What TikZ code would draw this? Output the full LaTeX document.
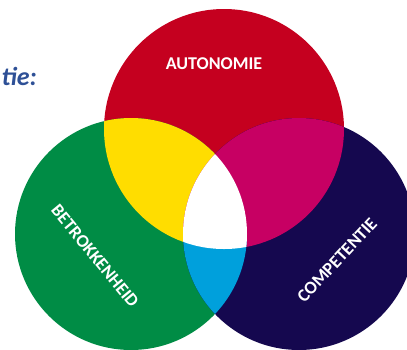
\documentclass[tikz,border=0pt]{standalone}
\usepackage{fontspec}
\setmainfont{Carlito}
\usepackage{tikz}
\usetikzlibrary{positioning}
\usepackage{xcolor}
\definecolor{autorood}{HTML}{C5001F}
\definecolor{betrgroen}{HTML}{008C45}
\definecolor{compblauw}{HTML}{15084F}
\definecolor{menggeel}{HTML}{FFDD00}
\definecolor{mengpaars}{HTML}{C70063}
\definecolor{mengcyaan}{HTML}{00A0DC}
\definecolor{titelblauw}{HTML}{2E5096}
\tikzset{
  kringtekst/.style={text=white, inner sep=0pt, font=\bfseries\fontsize{18}{18}\selectfont},
  titeltekst/.style={text=titelblauw, inner sep=0pt, font=\bfseries\itshape\fontsize{26}{26}\selectfont}
}
\newcommand\kringauto{(224,129) circle [radius=120pt]}
\newcommand\kringbetr{(131,234) circle [radius=116pt]}
\newcommand\kringcomp{(299,234) circle [radius=116pt]}
\begin{document}
\begin{tikzpicture}[x=1pt, y=-1pt]
    \useasboundingbox (0,0) rectangle (407,349);
    \begin{scope}
      \clip (0,0) rectangle (407,349);
      % de drie kringen
      \fill[autorood] \kringauto;
      \fill[betrgroen] \kringbetr;
      \fill[compblauw] \kringcomp;
      % overlappingen
      \begin{scope}
        \clip \kringauto;
        \fill[menggeel] \kringbetr;
        \fill[mengpaars] \kringcomp;
      \end{scope}
      \begin{scope}
        \clip \kringbetr;
        \clip \kringcomp;
        \fill[mengcyaan] (0,234) rectangle (407,349);
      \end{scope}
      \begin{scope}
        \clip \kringauto;
        \clip \kringbetr;
        \fill[white] \kringcomp;
      \end{scope}
    \end{scope}

    \node[kringtekst] (auto) at (214,64) {AUTONOMIE};
    \node[kringtekst, rotate=-50.5] (betr) at (95,256) {BETROKKENHEID};
    \node[kringtekst, rotate=47] (comp) at (337,260) {COMPETENTIE};
    \node[titeltekst, anchor=base east] (titel) at (37,85) {tie:};
\end{tikzpicture}
\end{document}
